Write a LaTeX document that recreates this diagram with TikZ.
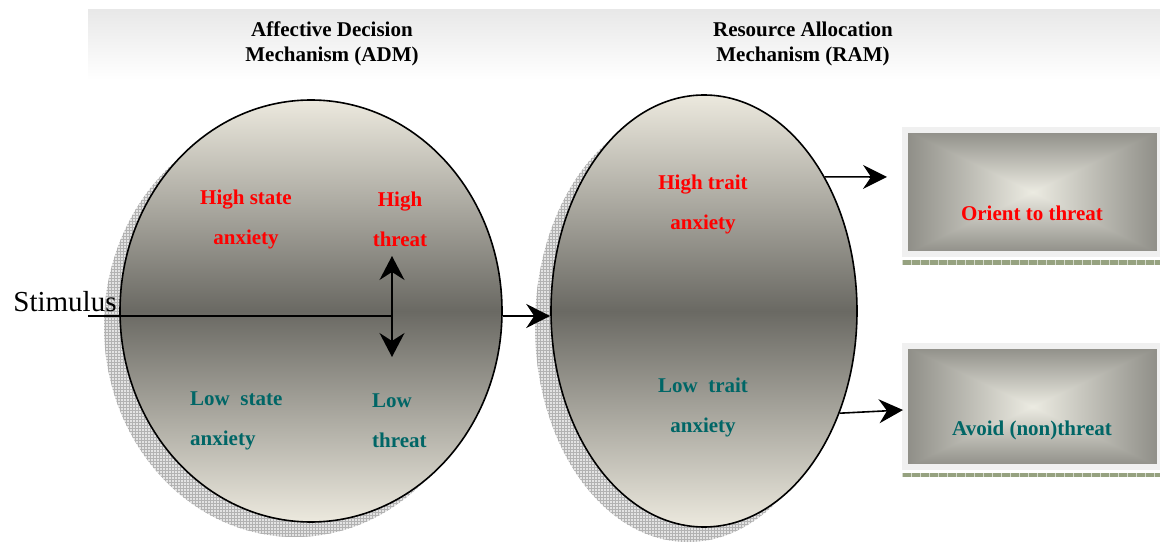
\documentclass[tikz,border=0pt]{standalone}
\usepackage{fontspec}
\setmainfont{Liberation Serif}
\usetikzlibrary{arrows.meta,shapes.geometric,patterns,positioning}

\definecolor{shadelight}{RGB}{236,233,222}
\definecolor{shadedark}{RGB}{106,105,99}
\definecolor{lowteal}{RGB}{0,102,102}
\definecolor{framegray}{RGB}{240,240,240}
\definecolor{stripgreen}{RGB}{150,162,128}

% light centre, dark rim, seams into the corners
\pgfdeclarefunctionalshading{boxglow}{\pgfpoint{-50bp}{-50bp}}{\pgfpoint{50bp}{50bp}}{}{
  abs exch abs 2 copy lt {exch} if pop 25 div
  dup 1 gt {pop 1} if
  dup 0.37 mul 0.925 exch sub exch
  dup 0.37 mul 0.922 exch sub exch
  0.36 mul 0.886 exch sub
}

\begin{document}
\begin{tikzpicture}[
    x=1pt, y=-1pt,
    >=Stealth,
    mechanism/.style={
        ellipse,
        draw,
        line width=1.6pt,
        inner sep=0pt,
        top color=shadelight,
        bottom color=shadelight,
        middle color=shadedark
    },
    backshadow/.style={
        ellipse,
        inner sep=0pt,
        preaction={fill=gray!22},
        pattern=grid,
        pattern color=gray!60
    },
    outcome/.style={
        rectangle,
        inner sep=0pt,
        shading=boxglow,
        draw=framegray,
        line width=6pt,
        minimum width=255pt
    },
    heading/.style={font=\fontsize{21}{25}\selectfont\bfseries, align=center, inner sep=0pt},
    tag/.style={font=\fontsize{21}{40}\selectfont\bfseries, inner sep=0pt},
    plain/.style={line width=1.6pt},
    bigtip/.style={line width=1.6pt, -{Stealth[length=24pt, width=24pt, inset=8pt]}},
    twotip/.style={line width=1.6pt, -{Stealth[length=24pt, width=25pt, inset=8pt]}}
]
\useasboundingbox (0,0) rectangle (1160,545);

% HEADER
\node[inner sep=0pt, minimum width=1072pt, minimum height=70pt,
      top color=gray!18, bottom color=white] (band) at (624,45) {};
\node[heading] (admtitle) at (332,44) {Affective Decision\\Mechanism (ADM)};
\node[heading] (ramtitle) at (803,44) {Resource Allocation\\Mechanism (RAM)};

% MECHANISMS
\node[backshadow, minimum width=382pt, minimum height=422pt] (admshadow) at (295,326) {};
\node[mechanism, minimum width=382pt, minimum height=422pt] (adm) at (311,311) {};
\node[backshadow, minimum width=306pt, minimum height=432pt] (ramshadow) at (688,326) {};
\node[mechanism, minimum width=306pt, minimum height=432pt] (ram) at (704,311) {};

% ADM TEXTS
\node[tag, red, align=center] (hstate) at (246,219) {High state\\anxiety};
\node[tag, red, align=center] (hthreat) at (400,219) {High\\threat};
\node[tag, lowteal, align=left, anchor=west] (lstate) at (190,421) {Low~ state\\anxiety};
\node[tag, lowteal, align=left, anchor=west] (lthreat) at (372,421) {Low\\threat};

% RAM TEXTS
\node[tag, red, align=center] (htrait) at (703,204) {High trait\\anxiety};
\node[tag, lowteal, align=center] (ltrait) at (703,407) {Low~ trait\\anxiety};

% OUTCOMES
\node[outcome, minimum height=124pt] (orient) at (1032.5,192) {};
\node[tag, red] (orientlbl) at (1032,213) {Orient to threat};
\fill[stripgreen] (902,260) rectangle (1160,265);
\draw[white!60!stripgreen, line width=5pt, dash pattern=on 1pt off 8pt] (902,262.5) -- (1160,262.5);

\node[outcome, minimum height=121pt] (avoid) at (1032.5,406.5) {};
\node[tag, lowteal] (avoidlbl) at (1032,430) {Avoid (non)threat};
\fill[stripgreen] (902,473) rectangle (1160,477);
\draw[white!60!stripgreen, line width=4pt, dash pattern=on 1pt off 8pt] (902,475) -- (1160,475);

% STIMULUS
\node[font=\fontsize{29}{30}\selectfont, inner sep=0pt] (stim) at (65,302) {Stimulus};
\coordinate (stimin) at (88,316);
\coordinate (split) at (392,316);
\coordinate (hi) at (392,256);
\coordinate (lo) at (392,357);
\coordinate (oarr) at (887,177);
\coordinate (aarr) at (903,410);

% --- ARROWS ---
\draw[plain]  (stimin) -- (split);
\draw[twotip] (split) -- (hi);
\draw[twotip] (split) -- (lo);

\draw[bigtip] (adm.east |- split) -- (ram.west |- split);

\draw[bigtip] (ram.48) -- (oarr);
\draw[bigtip] (ram.-37) -- (aarr);

\end{tikzpicture}
\end{document}
